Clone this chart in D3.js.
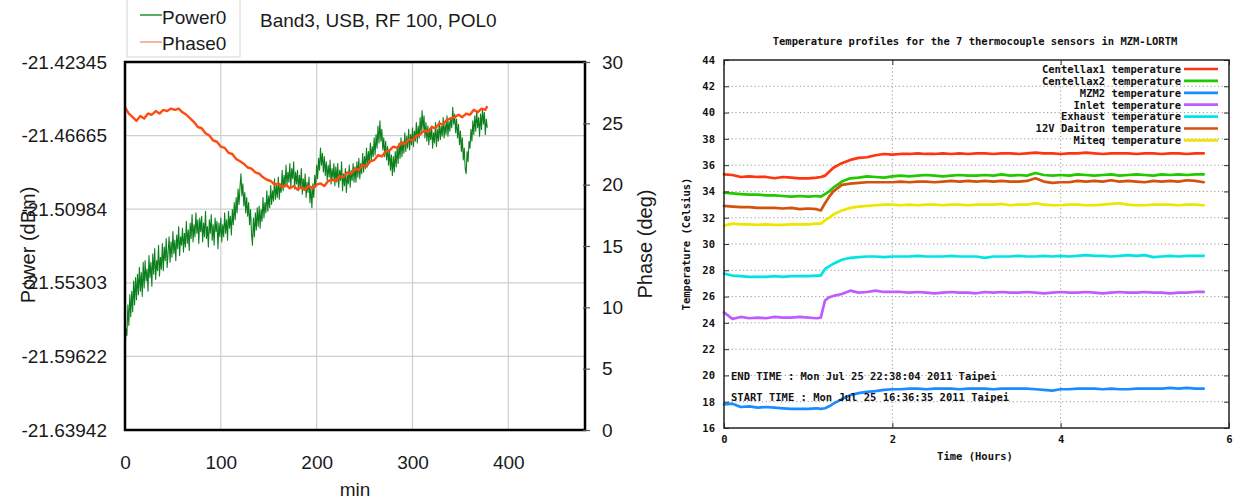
<!DOCTYPE html>
<html>
<head>
<meta charset="utf-8">
<script src="https://cdn.jsdelivr.net/npm/d3@7/dist/d3.min.js"></script>
<style>
  body { margin: 0; background: #fff; }
  svg { display: block; }
  .sans text, text.sans { font-family: "Liberation Sans", Arial, sans-serif; }
  .mono text, text.mono { font-family: "DejaVu Sans Mono", monospace; font-weight: bold; }
</style>
</head>
<body>
<svg id="chart" width="1239" height="501"></svg>
<script>
// ===================== Left panel: Band3 power / phase drift =====================
const panelTitle = "Band3, USB, RF 100, POL0";
const powerTicks = [-21.42345, -21.46665, -21.50984, -21.55303, -21.59622, -21.63942];
const phaseTicks = [0, 5, 10, 15, 20, 25, 30];
const minuteTicks = [0, 100, 200, 300, 400];

// Power0 sampled once per minute, 0..378 min (dBm)
const powerMinutes = d3.range(0, 379);
const power0 = [
  -21.596, -21.580, -21.584, -21.566, -21.578, -21.560, -21.573, -21.558, -21.570, -21.552,
  -21.566, -21.550, -21.563, -21.548, -21.560, -21.544, -21.558, -21.547, -21.561, -21.541,
  -21.556, -21.540, -21.552, -21.545, -21.558, -21.537, -21.550, -21.541, -21.555, -21.536,
  -21.548, -21.533, -21.551, -21.540, -21.546, -21.531, -21.549, -21.538, -21.545, -21.530,
  -21.546, -21.532, -21.540, -21.527, -21.544, -21.535, -21.526, -21.541, -21.529, -21.538,
  -21.523, -21.536, -21.528, -21.540, -21.525, -21.533, -21.520, -21.537, -21.526, -21.531,
  -21.521, -21.535, -21.524, -21.532, -21.517, -21.530, -21.522, -21.534, -21.518, -21.527,
  -21.513, -21.529, -21.519, -21.526, -21.512, -21.524, -21.516, -21.530, -21.515, -21.523,
  -21.514, -21.529, -21.518, -21.526, -21.511, -21.527, -21.520, -21.532, -21.516, -21.524,
  -21.513, -21.528, -21.519, -21.531, -21.515, -21.523, -21.517, -21.533, -21.518, -21.526,
  -21.515, -21.529, -21.519, -21.526, -21.512, -21.524, -21.516, -21.528, -21.511, -21.521,
  -21.514, -21.525, -21.510, -21.519, -21.506, -21.516, -21.503, -21.512, -21.498, -21.507,
  -21.497, -21.489, -21.502, -21.495, -21.508, -21.500, -21.512, -21.503, -21.514, -21.506,
  -21.519, -21.510, -21.524, -21.531, -21.515, -21.526, -21.512, -21.522, -21.509, -21.520,
  -21.508, -21.521, -21.510, -21.517, -21.503, -21.515, -21.506, -21.512, -21.499, -21.511,
  -21.502, -21.509, -21.496, -21.507, -21.499, -21.505, -21.492, -21.504, -21.496, -21.503,
  -21.491, -21.504, -21.495, -21.500, -21.487, -21.499, -21.490, -21.497, -21.484, -21.496,
  -21.488, -21.494, -21.483, -21.497, -21.486, -21.492, -21.482, -21.498, -21.488, -21.495,
  -21.487, -21.499, -21.490, -21.497, -21.486, -21.501, -21.492, -21.499, -21.489, -21.503,
  -21.494, -21.500, -21.491, -21.506, -21.497, -21.509, -21.495, -21.503, -21.490, -21.497,
  -21.484, -21.492, -21.480, -21.487, -21.474, -21.484, -21.477, -21.488, -21.479, -21.490,
  -21.482, -21.493, -21.484, -21.491, -21.481, -21.495, -21.486, -21.492, -21.483, -21.496,
  -21.485, -21.494, -21.483, -21.497, -21.487, -21.493, -21.482, -21.499, -21.489, -21.496,
  -21.486, -21.500, -21.490, -21.495, -21.484, -21.497, -21.487, -21.493, -21.483, -21.494,
  -21.485, -21.494, -21.482, -21.491, -21.480, -21.492, -21.483, -21.489, -21.477, -21.488,
  -21.479, -21.486, -21.474, -21.485, -21.476, -21.483, -21.471, -21.481, -21.473, -21.479,
  -21.468, -21.478, -21.466, -21.474, -21.461, -21.471, -21.458, -21.470, -21.463, -21.475,
  -21.468, -21.479, -21.470, -21.481, -21.473, -21.484, -21.475, -21.487, -21.478, -21.490,
  -21.479, -21.488, -21.476, -21.485, -21.473, -21.483, -21.471, -21.480, -21.468, -21.479,
  -21.470, -21.477, -21.465, -21.476, -21.467, -21.474, -21.463, -21.475, -21.466, -21.472,
  -21.462, -21.473, -21.464, -21.470, -21.459, -21.471, -21.461, -21.468, -21.456, -21.466,
  -21.452, -21.463, -21.455, -21.468, -21.459, -21.470, -21.461, -21.472, -21.463, -21.469,
  -21.461, -21.474, -21.465, -21.471, -21.459, -21.473, -21.463, -21.470, -21.458, -21.469,
  -21.461, -21.467, -21.456, -21.468, -21.460, -21.466, -21.455, -21.467, -21.458, -21.464,
  -21.456, -21.462, -21.450, -21.460, -21.454, -21.465, -21.457, -21.468, -21.460, -21.472,
  -21.464, -21.476, -21.468, -21.481, -21.474, -21.486, -21.489, -21.476, -21.482, -21.470,
  -21.474, -21.463, -21.470, -21.458, -21.466, -21.455, -21.464, -21.452, -21.462, -21.456,
  -21.467, -21.454, -21.463, -21.451, -21.460, -21.453, -21.466, -21.457, -21.462
];

// Phase0 sampled every 4 minutes plus the final sample (deg)
const phaseMinutes = d3.range(0, 380, 4).concat([378]);
const phase0 = [
  26.3, 25.8, 25.5, 25.2, 25.6, 25.4, 25.8, 25.7, 26.0, 25.8,
  26.1, 26.0, 26.2, 26.1, 26.2, 25.9, 25.7, 25.4, 25.1, 24.7,
  24.6, 24.2, 24.0, 23.6, 23.5, 23.1, 23.0, 22.6, 22.5, 22.1,
  21.9, 21.7, 21.4, 21.3, 21.0, 20.9, 20.6, 20.4, 20.3, 20.0,
  20.1, 19.8, 20.0, 19.7, 19.9, 19.6, 19.8, 19.6, 19.9, 19.7,
  20.0, 20.1, 19.9, 20.3, 20.4, 20.3, 20.7, 20.6, 21.0, 20.9,
  21.3, 21.2, 21.6, 21.5, 21.9, 22.0, 22.4, 22.3, 22.7, 22.8,
  23.1, 23.0, 23.4, 23.3, 23.7, 23.6, 24.0, 24.1, 24.4, 24.3,
  24.7, 24.6, 25.0, 24.9, 25.3, 25.4, 25.5, 25.7, 25.5, 25.8,
  25.7, 26.1, 25.9, 26.2, 26.1, 26.4
];

// ===================== Right panel: MZM-LORTM thermocouples =====================
const tempTitle = "Temperature profiles for the 7 thermocouple sensors in MZM-LORTM";
const tempTicks = [16, 18, 20, 22, 24, 26, 28, 30, 32, 34, 36, 38, 40, 42, 44];
const hourTicks = [0, 2, 4, 6];
const endTimeNote = "END TIME : Mon Jul 25 22:38:04 2011 Taipei";
const startTimeNote = "START TIME : Mon Jul 25 16:36:35 2011 Taipei";

const hours = [
  0, 0.1, 0.2, 0.3, 0.4, 0.5, 0.6, 0.7, 0.8, 0.9, 1.0, 1.1,
  1.15, 1.2, 1.25,
  1.3, 1.4, 1.5, 1.6, 1.7, 1.8, 1.9, 2.0,
  2.1, 2.2, 2.3, 2.4, 2.5, 2.6, 2.7, 2.8, 2.9, 3.0,
  3.1, 3.2, 3.3, 3.4, 3.5, 3.6, 3.7, 3.8, 3.9, 4.0,
  4.1, 4.2, 4.3, 4.4, 4.5, 4.6, 4.7, 4.8, 4.9, 5.0,
  5.1, 5.2, 5.3, 5.4, 5.5, 5.6, 5.7
];

const sensorNames = [
  "Centellax1 temperature", "Centellax2 temperature", "MZM2 temperature",
  "Inlet temperature", "Exhaust temperature", "12V Daitron temperature", "Miteq temperature"
];

const centellax1 = [
  35.3, 35.25, 35.1, 35.15, 35.1, 35.1, 35.0, 35.1, 35.05, 35.0, 35.0, 35.05,
  35.1, 35.2, 35.5,
  35.8, 36.15, 36.4, 36.55, 36.6, 36.75, 36.85, 36.8,
  36.85, 36.85, 36.9, 36.85, 36.85, 36.9, 36.85, 36.9, 36.85, 36.9,
  36.9, 36.85, 36.9, 36.9, 36.85, 36.9, 36.95, 36.9, 36.9, 36.85,
  36.9, 36.9, 36.95, 36.9, 36.85, 36.9, 36.9, 36.9, 36.85, 36.9,
  36.9, 36.85, 36.9, 36.9, 36.85, 36.9, 36.9
];
const centellax2 = [
  33.9, 33.85, 33.8, 33.75, 33.75, 33.7, 33.7, 33.65, 33.6, 33.65, 33.6, 33.65,
  33.6, 33.8, 34.0,
  34.3, 34.75, 35.0, 35.05, 35.15, 35.1, 35.05, 35.15,
  35.2, 35.15, 35.2, 35.25, 35.2, 35.15, 35.2, 35.25, 35.2, 35.2,
  35.25, 35.2, 35.3, 35.2, 35.25, 35.2, 35.4, 35.25, 35.2, 35.25,
  35.2, 35.3, 35.25, 35.2, 35.25, 35.3, 35.2, 35.25, 35.3, 35.25,
  35.2, 35.3, 35.25, 35.3, 35.25, 35.3, 35.3
];
const mzm2 = [
  17.8, 17.85, 17.6, 17.65, 17.55, 17.6, 17.55, 17.5, 17.45, 17.45, 17.45, 17.5,
  17.45, 17.5, 17.65,
  17.85, 18.2, 18.5, 18.65, 18.75, 18.8, 18.9, 18.95,
  18.95, 19.0, 19.0, 18.95, 19.0, 19.0, 19.0, 18.95, 19.0, 19.0,
  19.0, 18.95, 19.0, 19.0, 19.0, 19.0, 18.95, 18.9, 18.85, 18.95,
  18.95, 19.0, 19.0, 19.0, 18.95, 19.0, 18.95, 18.95, 19.0, 19.0,
  19.0, 19.0, 19.05, 19.0, 19.05, 19.0, 19.0
];
const inlet = [
  24.8, 24.3, 24.45, 24.35, 24.4, 24.35, 24.45, 24.4, 24.4, 24.45, 24.4, 24.35,
  24.4, 25.7, 25.95,
  26.05, 26.2, 26.45, 26.3, 26.35, 26.45, 26.35, 26.35,
  26.35, 26.3, 26.35, 26.3, 26.25, 26.3, 26.35, 26.3, 26.3, 26.25,
  26.35, 26.3, 26.35, 26.3, 26.3, 26.35, 26.3, 26.25, 26.3, 26.35,
  26.3, 26.3, 26.35, 26.3, 26.25, 26.3, 26.35, 26.3, 26.3, 26.35,
  26.3, 26.3, 26.25, 26.3, 26.3, 26.35, 26.35
];
const exhaust = [
  27.75, 27.6, 27.55, 27.5, 27.5, 27.5, 27.55, 27.5, 27.55, 27.55, 27.55, 27.6,
  27.6, 28.1, 28.3,
  28.5, 28.8, 28.95, 29.0, 29.05, 29.05, 29.0, 29.05,
  29.05, 29.05, 29.1, 29.05, 29.05, 29.05, 29.1, 29.05, 29.05, 29.05,
  28.95, 29.05, 29.05, 29.05, 29.1, 29.05, 29.05, 29.1, 29.05, 29.1,
  29.05, 29.1, 29.15, 29.1, 29.1, 29.05, 29.1, 29.15, 29.1, 29.15,
  29.0, 29.05, 29.1, 29.05, 29.1, 29.1, 29.1
];
const daitron12V = [
  32.9, 32.85, 32.8, 32.8, 32.75, 32.75, 32.75, 32.7, 32.75, 32.65, 32.7, 32.65,
  32.55, 33.1, 33.6,
  34.0, 34.5, 34.6, 34.65, 34.7, 34.7, 34.7, 34.7,
  34.75, 34.7, 34.75, 34.75, 34.7, 34.75, 34.8, 34.75, 34.8, 34.75,
  34.8, 34.75, 34.8, 34.75, 34.75, 34.8, 35.0, 34.75, 34.65, 34.7,
  34.7, 34.8, 34.75, 34.8, 34.75, 34.85, 34.75, 34.8, 34.75, 34.7,
  34.8, 34.75, 34.8, 34.75, 34.85, 34.8, 34.7
];
const miteq = [
  31.4, 31.55, 31.5, 31.5, 31.45, 31.5, 31.45, 31.45, 31.5, 31.5, 31.5, 31.55,
  31.55, 31.8, 32.0,
  32.25, 32.55, 32.75, 32.85, 32.9, 32.95, 33.0, 33.0,
  32.95, 33.0, 32.95, 33.0, 33.0, 32.95, 33.0, 33.0, 32.95, 33.0,
  33.0, 33.0, 33.05, 32.95, 33.0, 33.0, 33.1, 33.0, 32.95, 32.95,
  33.0, 33.0, 32.95, 32.95, 33.0, 33.05, 33.1, 33.0, 32.95, 32.95,
  33.0, 33.0, 33.0, 32.95, 33.0, 33.0, 32.95
];

const sensorSeries = [centellax1, centellax2, mzm2, inlet, exhaust, daitron12V, miteq];
const sensorColors = ["#ff3410", "#22c800", "#1a8cff", "#c05cff", "#00e4e8", "#d2520e", "#ece600"];

const svg = d3.select("#chart");

// ---------------- Left panel drawing ----------------
(function drawPowerPhase() {
  const L = 125, R = 585, T = 62, B = 430;
  const x = d3.scaleLinear().domain([0, 480]).range([L, R]);
  const yPow = d3.scaleLinear().domain([-21.63942, -21.42345]).range([B, T]);
  const yPh = d3.scaleLinear().domain([0, 30]).range([B, T]);

  const g = svg.append("g").attr("class", "sans");

  // grid
  g.append("g").selectAll("line").data(minuteTicks.filter(d => d > 0)).join("line")
    .attr("x1", d => x(d)).attr("x2", d => x(d)).attr("y1", T).attr("y2", B)
    .attr("stroke", "#cfcfcf").attr("stroke-width", 1.2);
  g.append("g").selectAll("line").data(powerTicks.slice(1, -1)).join("line")
    .attr("x1", L).attr("x2", R).attr("y1", d => yPow(d)).attr("y2", d => yPow(d))
    .attr("stroke", "#cfcfcf").attr("stroke-width", 1.2);

  // series
  const powLine = d3.line().x((d, i) => x(powerMinutes[i])).y(d => yPow(d));
  g.append("path").datum(power0).attr("d", powLine)
    .attr("fill", "none").attr("stroke", "#0d801e").attr("stroke-width", 1.1)
    .attr("stroke-linejoin", "round");
  const phLine = d3.line().x((d, i) => x(phaseMinutes[i])).y(d => yPh(d));
  g.append("path").datum(phase0).attr("d", phLine)
    .attr("fill", "none").attr("stroke", "#ff4a12").attr("stroke-width", 2.4)
    .attr("stroke-linejoin", "round");

  // frame
  g.append("rect").attr("x", L).attr("y", T).attr("width", R - L).attr("height", B - T)
    .attr("fill", "none").attr("stroke", "#000").attr("stroke-width", 2.5);

  // axes
  const fs = "19px";
  const left = g.append("g").attr("transform", `translate(${L},0)`)
    .call(d3.axisLeft(yPow).tickValues(powerTicks).tickFormat(d => d.toFixed(5)).tickSize(0).tickPadding(18));
  left.select(".domain").remove();
  const right = g.append("g").attr("transform", `translate(${R - 2},0)`)
    .call(d3.axisRight(yPh).tickValues(phaseTicks).tickFormat(d => String(d)).tickSize(7).tickPadding(12));
  right.select(".domain").remove();
  right.selectAll(".tick line").attr("stroke", "#555").attr("stroke-width", 1.2);
  const bottom = g.append("g").attr("transform", `translate(0,${B})`)
    .call(d3.axisBottom(x).tickValues(minuteTicks).tickFormat(d => String(d)).tickSize(0).tickPadding(26));
  bottom.select(".domain").remove();
  g.selectAll(".tick text").attr("font-size", fs).attr("fill", "#1a1a1a")
    .attr("font-family", "Liberation Sans, Arial, sans-serif");

  // titles
  g.append("text").attr("x", 260).attr("y", 27).attr("font-size", fs).attr("fill", "#1a1a1a").text(panelTitle);
  g.append("text").attr("x", 355).attr("y", 496).attr("text-anchor", "middle")
    .attr("font-size", fs).attr("fill", "#1a1a1a").text("min");
  g.append("text").attr("transform", "translate(35,245) rotate(-90)").attr("text-anchor", "middle")
    .attr("font-size", "20px").attr("fill", "#1a1a1a").text("Power (dBm)");
  g.append("text").attr("transform", "translate(652,244) rotate(-90)").attr("text-anchor", "middle")
    .attr("font-size", "20px").attr("fill", "#1a1a1a").text("Phase (deg)");

  // legend
  const lg = g.append("g");
  lg.append("rect").attr("x", 127).attr("y", -4).attr("width", 113).attr("height", 61)
    .attr("fill", "#fff").attr("stroke", "#d6d6d6").attr("stroke-width", 1);
  const legendItems = [
    { name: "Power0", color: "#2f9a3c", y: 15, base: 24 },
    { name: "Phase0", color: "#f6a18c", y: 42, base: 50 }
  ];
  legendItems.forEach(it => {
    lg.append("line").attr("x1", 140).attr("x2", 162).attr("y1", it.y).attr("y2", it.y)
      .attr("stroke", it.color).attr("stroke-width", 1.6);
    lg.append("text").attr("x", 162).attr("y", it.base).attr("font-size", fs)
      .attr("fill", "#1a1a1a").text(it.name);
  });
})();

// ---------------- Right panel drawing ----------------
(function drawTemperatures() {
  const L = 724, R = 1229, T = 60, B = 428;
  const x = d3.scaleLinear().domain([0, 6]).range([L, R]);
  const y = d3.scaleLinear().domain([16, 44]).range([B, T]);
  const fs = "10.5px";
  const g = svg.append("g").attr("class", "mono");

  // dotted grid
  g.append("g").selectAll("line").data(tempTicks.slice(1, -1)).join("line")
    .attr("x1", L).attr("x2", R).attr("y1", d => y(d)).attr("y2", d => y(d))
    .attr("stroke", "#9a9a9a").attr("stroke-width", 1).attr("stroke-dasharray", "1.2,2.6");
  g.append("g").selectAll("line").data(hourTicks.slice(1, -1)).join("line")
    .attr("x1", d => x(d)).attr("x2", d => x(d)).attr("y1", T).attr("y2", B)
    .attr("stroke", "#9a9a9a").attr("stroke-width", 1).attr("stroke-dasharray", "1.2,2.6");

  // series
  sensorSeries.forEach((vals, k) => {
    const line = d3.line().x((d, i) => x(hours[i])).y(d => y(d));
    g.append("path").datum(vals).attr("d", line)
      .attr("fill", "none").attr("stroke", sensorColors[k]).attr("stroke-width", 2.7)
      .attr("stroke-linejoin", "round").attr("stroke-linecap", "round");
  });

  // axes with inward ticks on all four sides
  const ax = (sel) => { sel.select(".domain").remove(); sel.selectAll(".tick line").attr("stroke", "#333"); };
  g.append("g").attr("transform", `translate(${L},0)`)
    .call(d3.axisLeft(y).tickValues(tempTicks).tickFormat(d => String(d)).tickSize(-5).tickPadding(9)).call(ax);
  g.append("g").attr("transform", `translate(${R},0)`)
    .call(d3.axisRight(y).tickValues(tempTicks).tickSize(-5).tickFormat("")).call(ax);
  g.append("g").attr("transform", `translate(0,${B})`)
    .call(d3.axisBottom(x).tickValues(hourTicks).tickFormat(d => String(d)).tickSize(-5).tickPadding(8)).call(ax);
  g.append("g").attr("transform", `translate(0,${T})`)
    .call(d3.axisTop(x).tickValues(hourTicks).tickSize(-5).tickFormat("")).call(ax);
  g.selectAll(".tick text").attr("font-size", fs).attr("fill", "#111")
    .attr("font-family", "DejaVu Sans Mono, monospace").attr("font-weight", "bold");

  // frame
  g.append("rect").attr("x", L).attr("y", T).attr("width", R - L).attr("height", B - T)
    .attr("fill", "none").attr("stroke", "#222").attr("stroke-width", 1.5);

  // title and axis labels
  g.append("text").attr("x", 975).attr("y", 45).attr("text-anchor", "middle")
    .attr("font-size", fs).attr("fill", "#111").text(tempTitle);
  g.append("text").attr("x", 975).attr("y", 460).attr("text-anchor", "middle")
    .attr("font-size", fs).attr("fill", "#111").text("Time (Hours)");
  g.append("text").attr("transform", "translate(690,244) rotate(-90)").attr("text-anchor", "middle")
    .attr("font-size", fs).attr("fill", "#111").text("Temperature (Celsius)");

  // time annotations
  g.append("text").attr("x", 731).attr("y", 380).attr("font-size", fs).attr("fill", "#111").text(endTimeNote);
  g.append("text").attr("x", 731).attr("y", 401).attr("font-size", fs).attr("fill", "#111").text(startTimeNote);

  // legend
  sensorNames.forEach((name, k) => {
    const yy = 69 + k * 11.9;
    g.append("text").attr("x", 1181).attr("y", yy + 3.8).attr("text-anchor", "end")
      .attr("font-size", fs).attr("fill", "#111").text(name);
    g.append("line").attr("x1", 1184).attr("x2", 1218).attr("y1", yy).attr("y2", yy)
      .attr("stroke", sensorColors[k]).attr("stroke-width", 2.7);
  });
})();
</script>
</body>
</html>
